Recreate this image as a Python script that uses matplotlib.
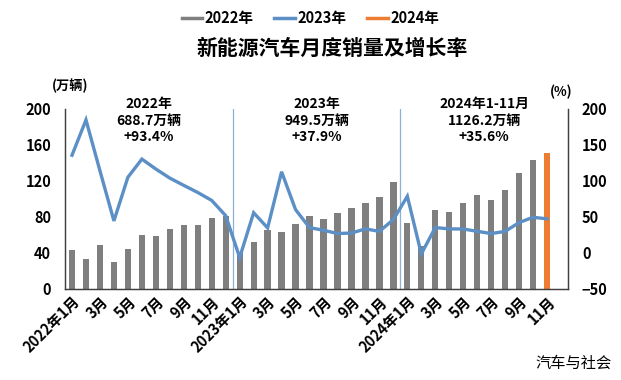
import numpy as np
import matplotlib.pyplot as plt
from matplotlib.lines import Line2D

plt.rcParams['font.family'] = ['Noto Sans CJK SC', 'DejaVu Sans']

# monthly NEV sales (万辆), 2022-01 .. 2024-11
sales_2022 = [43.1, 33.4, 48.4, 29.9, 44.7, 59.6, 59.3, 66.6, 70.8, 71.4, 78.6, 81.4]
sales_2023 = [40.8, 52.5, 65.3, 63.6, 71.7, 80.6, 78.0, 84.6, 90.4, 95.6, 102.6, 119.1]
sales_2024 = [72.9, 47.7, 88.3, 85.0, 95.5, 104.9, 99.1, 110.3, 128.7, 143.0, 151.2]

# year-on-year growth (%)
growth_2022 = [135.8, 184.8, 114.2, 44.6, 105.2, 130.4, 116.6, 104.0, 93.9, 84.0, 73.0, 51.8]
growth_2023 = [-6.3, 55.9, 34.8, 112.8, 60.2, 35.2, 31.6, 27.0, 27.7, 33.5, 30.0, 46.4]
growth_2024 = [78.8, -1.3, 35.3, 33.5, 33.3, 30.1, 27.0, 30.0, 42.3, 49.6, 47.4]

years = ['2022年', '2023年', '2024年']
summary = ['2022年\n688.7万辆\n+93.4%', '2023年\n949.5万辆\n+37.9%', '2024年1-11月\n1126.2万辆\n+35.6%']

sales = sales_2022 + sales_2023 + sales_2024
growth = growth_2022 + growth_2023 + growth_2024
n = len(sales)
x = np.arange(n)

labels = []
for i in range(n):
    m = i % 12 + 1
    labels.append(f'{2022 + i // 12}年1月' if m == 1 else f'{m}月')

gray = '#7f7f7f'
blue = '#5b8fc6'
orange = '#ed7d31'

fig = plt.figure(figsize=(6.21, 3.80), dpi=100)
ax = fig.add_axes([0.1047, 0.2395, 0.81, 0.4737])
ax2 = ax.twinx()

colors = [gray] * (n - 1) + [orange]
ax.bar(x, sales, width=0.45, color=colors, zorder=2)
ax2.plot(x, growth, color=blue, lw=2.4, zorder=3, solid_joinstyle='miter')

ax.set_xlim(-0.5, 35.5)
ax.set_ylim(0, 200)
ax.set_yticks(range(0, 201, 40))
ax2.set_ylim(-50, 200)
ax2.set_yticks(range(-50, 201, 50))

for sep in [11.5, 23.5]:
    ax.axvline(sep, color='#8fb0d6', lw=0.9, zorder=1)

ax.set_xticks(x[::2])
ax.set_xticklabels(labels[::2], rotation=45, ha='right', rotation_mode='anchor',
                   fontsize=10.5, fontweight='bold')
ax.tick_params(axis='x', length=0, pad=3)
ax.tick_params(axis='y', length=0, pad=10, labelsize=10.5)
ax2.tick_params(axis='y', length=0, pad=10, labelsize=10.5)
for t in ax.get_yticklabels() + ax2.get_yticklabels():
    t.set_fontweight('bold')

for a in (ax, ax2):
    a.spines['top'].set_visible(False)
    for s in ('left', 'right', 'bottom'):
        a.spines[s].set_color('#404040')
        a.spines[s].set_linewidth(0.9)

for xc, txt in zip([5.5, 17.5, 29.5], summary):
    ax.text(xc, 213, txt, ha='center', va='top', fontsize=10, fontweight='bold',
            linespacing=1.2, clip_on=False)

fig.text(0.113, 0.773, '(万辆)', fontsize=9.5, fontweight='bold', ha='center', va='center')
fig.text(0.904, 0.758, '(%)', fontsize=9.5, fontweight='bold', ha='center', va='center')
fig.text(0.535, 0.872, '新能源汽车月度销量及增长率', fontsize=15, fontweight='bold',
         ha='center', va='center')
fig.text(0.985, 0.045, '汽车与社会', fontsize=11, ha='right', va='center')

handles = [Line2D([], [], color=c, lw=2.5) for c in (gray, blue, orange)]
fig.legend(handles, years, loc='center', bbox_to_anchor=(0.5, 0.952), ncol=3,
           frameon=False, prop={'weight': 'bold', 'size': 10.5},
           handlelength=1.4, handletextpad=0.2, columnspacing=1.4)

plt.savefig('out.png', dpi=100)
